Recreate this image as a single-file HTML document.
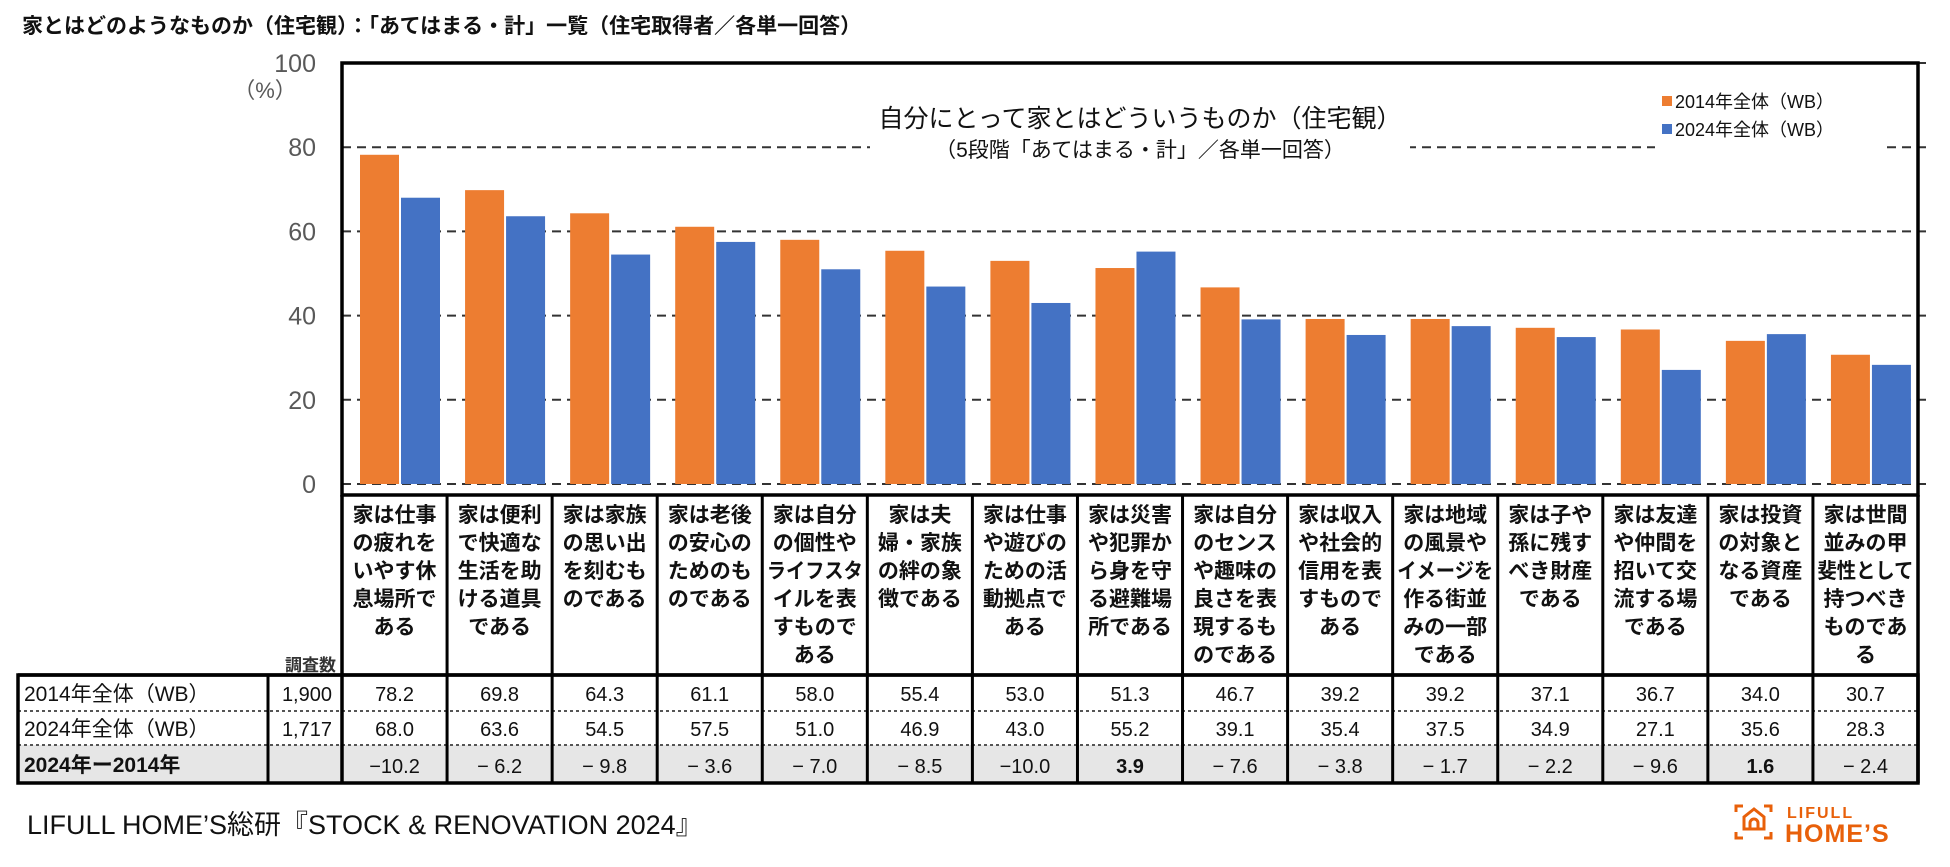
<!DOCTYPE html>
<html><head><meta charset="utf-8">
<style>
html,body{margin:0;padding:0;background:#fff;}
body{width:1950px;height:862px;overflow:hidden;font-family:"Liberation Sans","Noto Sans CJK JP",sans-serif;}
svg text{font-family:"Liberation Sans","Noto Sans CJK JP",sans-serif;}
</style></head>
<body>
<svg id="chart" width="1950" height="862" viewBox="0 0 1950 862" xmlns="http://www.w3.org/2000/svg">
<text x="22" y="33" font-size="21" font-weight="bold" fill="#111">家とはどのようなものか（住宅観）：「あてはまる・計」一覧（住宅取得者／各単一回答）</text>
<g id="grid"></g>
<g id="bars"></g>
<g id="yaxis"></g>
<rect x="342" y="63" width="1576" height="432" fill="none" stroke="#000" stroke-width="3.5"/>
<g>
<rect x="870" y="96" width="540" height="70" fill="#fff"/>
<text x="1140" y="127" font-size="25" text-anchor="middle" fill="#111">自分にとって家とはどういうものか（住宅観）</text>
<text x="1140" y="157" font-size="21" text-anchor="middle" fill="#111">（5段階「あてはまる・計」／各単一回答）</text>
</g>
<g>
<rect x="1655" y="88" width="230" height="66" fill="#fff"/>
<rect x="1662" y="96" width="10" height="10" fill="#ED7D31"/>
<text x="1675" y="108" font-size="18" fill="#111">2014年全体（WB）</text>
<rect x="1662" y="124" width="10" height="10" fill="#4472C4"/>
<text x="1675" y="136" font-size="18" fill="#111">2024年全体（WB）</text>
</g>
<g id="table"></g>
<text x="27" y="834" font-size="27" fill="#111">LIFULL HOME’S総研『STOCK &amp; RENOVATION 2024』</text>
<g fill="none" stroke="#E8600A" stroke-width="3">
<path d="M1736 812 v-6 h7 M1764 806 h7 v6 M1736 832 v6 h7 M1764 838 h7 v-6"/>
<path d="M1744 829 v-12 l10 -8 l10 8 v12 z"/>
<path d="M1750 829 v-6 a4 4 0 0 1 8 0 v6"/>
<text x="1787" y="818" font-size="16" font-weight="bold" fill="#E8600A" stroke="none" letter-spacing="2">LIFULL</text>
<text x="1785" y="842" font-size="25" font-weight="bold" fill="#E8600A" stroke="none" letter-spacing="1">HOME’S</text>
</g>
</svg>
<script>
const categories = [
 ["家は仕事","の疲れを","いやす休","息場所で","ある"],
 ["家は便利","で快適な","生活を助","ける道具","である"],
 ["家は家族","の思い出","を刻むも","のである"],
 ["家は老後","の安心の","ためのも","のである"],
 ["家は自分","の個性や","ライフスタ","イルを表","すもので","ある"],
 ["家は夫","婦・家族","の絆の象","徴である"],
 ["家は仕事","や遊びの","ための活","動拠点で","ある"],
 ["家は災害","や犯罪か","ら身を守","る避難場","所である"],
 ["家は自分","のセンス","や趣味の","良さを表","現するも","のである"],
 ["家は収入","や社会的","信用を表","すもので","ある"],
 ["家は地域","の風景や","イメージを","作る街並","みの一部","である"],
 ["家は子や","孫に残す","べき財産","である"],
 ["家は友達","や仲間を","招いて交","流する場","である"],
 ["家は投資","の対象と","なる資産","である"],
 ["家は世間","並みの甲","斐性として","持つべき","ものであ","る"]
];
const values2014 = [78.2,69.8,64.3,61.1,58.0,55.4,53.0,51.3,46.7,39.2,39.2,37.1,36.7,34.0,30.7];
const values2024 = [68.0,63.6,54.5,57.5,51.0,46.9,43.0,55.2,39.1,35.4,37.5,34.9,27.1,35.6,28.3];
const yTicks = [0,20,40,60,80,100];
const sampleSizes = ["1,900","1,717"];
const rowLabels = ["2014年全体（WB）","2024年全体（WB）","2024年ー2014年"];

const NS="http://www.w3.org/2000/svg";
const X0=342, X1=1918, Y0=484, Y100=63;
const colW=(X1-X0)/categories.length;
function y(v){return Y0-(v/100)*(Y0-Y100);}
function colX(i){return X0+i*colW;}
function mk(tag,attrs,parent,text){const e=document.createElementNS(NS,tag);for(const k in attrs)e.setAttribute(k,attrs[k]);if(text!==undefined)e.textContent=text;parent.appendChild(e);return e;}

const grid=document.getElementById('grid'), yax=document.getElementById('yaxis');
yTicks.forEach(t=>{
  const l=mk('line',{x1:X0,x2:X1+10,y1:y(t),y2:y(t),stroke:'#333','stroke-width':2,'stroke-dasharray':'9,6'},grid);
  
  
  const tx=mk('text',{x:316,y:y(t)+9,'font-size':25,'text-anchor':'end',fill:'#595959'},yax,String(t));
  
  
});
const pct=mk('text',{x:265,y:98,'font-size':22,'text-anchor':'middle',fill:'#595959'},yax,'（%）');



const bars=document.getElementById('bars');
const bw=39;
categories.forEach((c,i)=>{
  const bx=colX(i)+18;
  const b1=mk('rect',{x:bx,y:y(values2014[i]),width:bw,height:Y0-y(values2014[i]),fill:'#ED7D31'},bars);
  
  
  const b2=mk('rect',{x:bx+bw+2,y:y(values2024[i]),width:bw,height:Y0-y(values2024[i]),fill:'#4472C4'},bars);
  
  
});

const tb=document.getElementById('table');
const HT=495, R1=675, R2=711, R3=745, RB=783, TL=18, TC=268;
mk('rect',{x:TL,y:R3,width:X1-TL,height:RB-R3,fill:'#E6E6E6'},tb);
categories.forEach((lines,i)=>{
  const cx=colX(i)+colW/2;
  const g=mk('g',{},tb);
  
  
  lines.forEach((s,j)=>{
    const a={x:cx,y:522+j*28,'font-size':21,'font-weight':'bold','text-anchor':'middle',fill:'#111'};
    if(s.length>=5){a.textLength=96;a.lengthAdjust='spacingAndGlyphs';}
    mk('text',a,g,s);
  });
  const v1=mk('text',{x:cx,y:701,'font-size':20,'text-anchor':'middle',fill:'#111'},tb,values2014[i].toFixed(1));
  
  
  const v2=mk('text',{x:cx,y:736,'font-size':20,'text-anchor':'middle',fill:'#111'},tb,values2024[i].toFixed(1));
  
  
  const d=values2024[i]-values2014[i];
  const ds=d<0?(Math.abs(d)>=10?'−'+Math.abs(d).toFixed(1):'−  '+Math.abs(d).toFixed(1)):d.toFixed(1);
  const v3=mk('text',{x:cx,y:773,'font-size':20,'text-anchor':'middle',fill:'#111','font-weight':d>0?'bold':'normal','xml:space':'preserve'},tb,ds);
  
  
});
mk('line',{x1:TL,x2:X1,y1:R1,y2:R1,stroke:'#000','stroke-width':3.5},tb);
mk('line',{x1:TL,x2:X1,y1:R2,y2:R2,stroke:'#555','stroke-width':2,'stroke-dasharray':'3,3'},tb);
mk('line',{x1:TL,x2:X1,y1:R3,y2:R3,stroke:'#555','stroke-width':2,'stroke-dasharray':'3,3'},tb);
mk('rect',{x:TL,y:R1,width:X1-TL,height:RB-R1,fill:'none',stroke:'#000','stroke-width':3.5},tb);
mk('line',{x1:TC,x2:TC,y1:R1,y2:RB,stroke:'#000','stroke-width':3},tb);
mk('line',{x1:X0,x2:X0,y1:HT,y2:RB,stroke:'#000','stroke-width':3.5},tb);
mk('line',{x1:X1,x2:X1,y1:HT,y2:RB,stroke:'#000','stroke-width':3.5},tb);
for(let i=1;i<categories.length;i++) mk('line',{x1:colX(i),x2:colX(i),y1:HT,y2:RB,stroke:'#000','stroke-width':3},tb);
rowLabels.forEach((s,k)=>{
  const t=mk('text',{x:24,y:[701,736,772][k],'font-size':21,fill:'#111','font-weight':k===2?'bold':'normal'},tb,s);
  
  
});
sampleSizes.forEach((s,k)=>{
  const t=mk('text',{x:332,y:[701,736][k],'font-size':20,'text-anchor':'end',fill:'#111'},tb,s);
  
  
});
const hn=mk('text',{x:336,y:671,'font-size':17,'text-anchor':'end',fill:'#333','font-weight':'bold'},tb,'調査数');


</script>
</body></html>
